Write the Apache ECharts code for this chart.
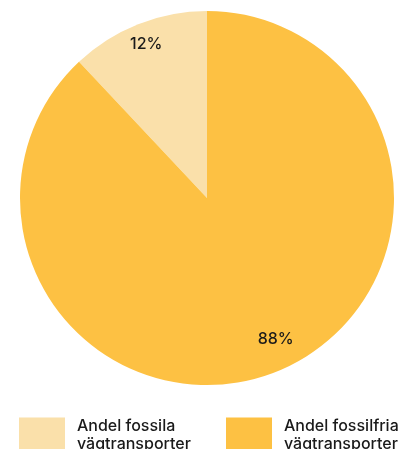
<!DOCTYPE html>
<html>
<head>
<meta charset="utf-8">
<script src="https://cdn.jsdelivr.net/npm/echarts@6/dist/echarts.min.js"></script>
<style>
html,body{margin:0;padding:0;background:#fff;}
#main{width:405px;height:449px;}
</style>
</head>
<body>
<div id="main"></div>
<script>
const categories = ['Andel fossila\nvägtransporter', 'Andel fossilfria\nvägtransporter'];
const values = [12, 88];
const labels = ['12%', '88%'];
const colors = ['#FAE0AA', '#FDC143'];

const chart = echarts.init(document.getElementById('main'));
const font = 'Inter, "Noto Sans", sans-serif';
const data = categories.map((c, i) => ({ name: c, value: values[i], itemStyle: { color: colors[i] } }));
const labelOffsets = [[0, 0], [8, -12]];
const labelData = categories.map((c, i) => ({ name: c, value: values[i], label: { formatter: labels[i], offset: labelOffsets[i] } }));

chart.setOption({
  animation: false,
  legend: {
    data: categories,
    left: 19,
    top: 417,
    width: 400,
    padding: 0,
    orient: 'horizontal',
    icon: 'rect',
    itemWidth: 46,
    itemHeight: 35,
    itemGap: 19,
    selectedMode: false,
    textStyle: { fontFamily: font, fontSize: 16, fontWeight: 500, color: '#1a1a1a', width: 130, lineHeight: 18, padding: [0, 0, 0, 7] }
  },
  series: [
    {
      type: 'pie',
      center: [207, 198],
      radius: [0, 187],
      startAngle: 90,
      clockwise: false,
      label: { show: false },
      labelLine: { show: false },
      emphasis: { disabled: true },
      data: data
    },
    {
      type: 'pie',
      center: [207, 198],
      radius: [137, 187],
      startAngle: 90,
      clockwise: false,
      silent: true,
      legendHoverLink: false,
      itemStyle: { color: 'rgba(0,0,0,0)' },
      label: { show: true, position: 'inside', fontFamily: font, fontSize: 16, fontWeight: 500, color: '#1a1a1a' },
      labelLine: { show: false },
      emphasis: { disabled: true },
      data: labelData
    }
  ]
});
</script>
</body>
</html>
